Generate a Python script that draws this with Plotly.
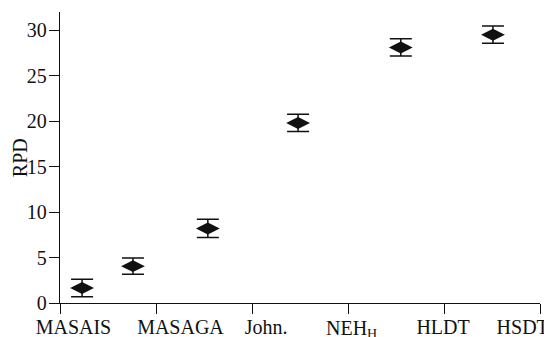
import plotly.graph_objects as go

# data
x_pos = [0.23, 0.76, 1.54, 2.48, 3.55, 4.51]
rpd = [1.65, 4.05, 8.2, 19.8, 28.1, 29.5]
err = [0.95, 0.9, 1.0, 0.95, 0.95, 0.95]
tick_vals = [0, 1, 2, 3, 4, 5]
label_pos = [0.14, 1.255, 2.146, 3.99, 4.82]
labels = ["MASAIS", "MASAGA", "John.", "HLDT", "HSDT"]
neh_pos = 3.04
neh_label = "NEH<sub>H</sub>"
y_ticks = [0, 5, 10, 15, 20, 25, 30]

FONT = "Liberation Serif"
INK = "#111111"

fig = go.Figure()
fig.add_trace(go.Scatter(
    x=x_pos, y=rpd, mode="markers",
    marker=dict(symbol="diamond-wide", size=17, color=INK,
                line=dict(width=0)),
    error_y=dict(type="data", array=err, visible=True, color=INK,
                 thickness=1.5, width=11),
    showlegend=False,
))
# invisible trace to activate label axis
fig.add_trace(go.Scatter(x=[None], y=[None], xaxis="x2", showlegend=False,
                         hoverinfo="skip"))

# the page body adds an 8px offset, so the figure is 8px smaller
fig.update_layout(
    width=544, height=329,
    margin=dict(l=52, r=12, t=4, b=34),
    paper_bgcolor="white", plot_bgcolor="white",
    font=dict(family=FONT, size=20, color=INK),
    xaxis=dict(range=[0, 5], tickvals=tick_vals, ticktext=[""] * 6,
               ticks="outside", ticklen=10, tickwidth=1.3, tickcolor=INK,
               showline=True, linecolor=INK, linewidth=1.3,
               showgrid=False, zeroline=False, automargin=False),
    xaxis2=dict(range=[0, 5], overlaying="x", side="bottom", anchor="y",
                tickvals=label_pos, ticktext=labels,
                ticks="outside", ticklen=6, tickcolor="rgba(0,0,0,0)",
                showline=False, showgrid=False, zeroline=False, automargin=False,
                tickfont=dict(family=FONT, size=20, color=INK)),
    yaxis=dict(range=[0, 32], tickvals=y_ticks,
               ticks="outside", ticklen=10, tickwidth=1.3, tickcolor=INK,
               ticklabelstandoff=-2,
               showline=True, linecolor=INK, linewidth=1.3,
               showgrid=False, zeroline=False, automargin=False,
               tickfont=dict(family=FONT, size=20, color=INK)),
    annotations=[
        dict(text="RPD", textangle=-90, xref="paper", yref="paper",
             x=-0.084, y=0.5, xanchor="center", yanchor="middle",
             showarrow=False, font=dict(family=FONT, size=20, color=INK)),
        dict(text=neh_label, xref="x", yref="paper", x=neh_pos, y=0,
             xanchor="center", yanchor="top", yshift=-12, showarrow=False,
             font=dict(family=FONT, size=20, color=INK)),
    ],
)

fig.write_html("out.html")
